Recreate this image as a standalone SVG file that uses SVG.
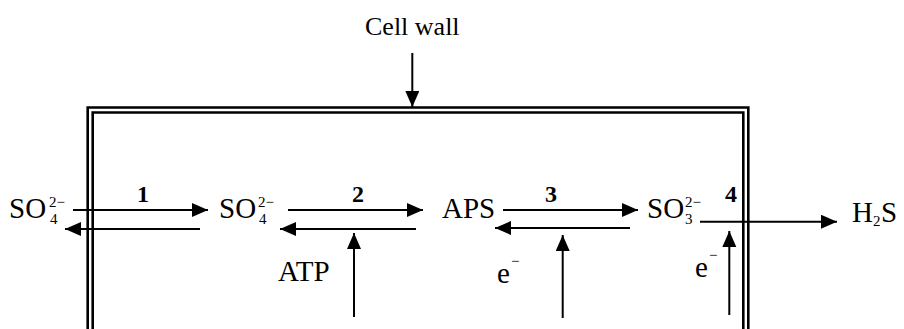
<svg xmlns="http://www.w3.org/2000/svg" width="904" height="329" viewBox="0 0 904 329">
  <style>
    .lbl { font-family: "Liberation Serif", "Times New Roman", serif; font-size: 29px; fill: #000; }
    .small { font-family: "Liberation Serif", "Times New Roman", serif; font-size: 15px; fill: #000; }
    .num { font-family: "Liberation Serif", "Times New Roman", serif; font-size: 24px; font-weight: bold; fill: #000; }
    .wall { fill: none; stroke: #000; stroke-width: 2.6; }
    .arr { stroke: #000; stroke-width: 2; fill: none; marker-end: url(#head); }
  </style>
  <defs>
    <marker id="head" markerUnits="userSpaceOnUse" markerWidth="18" markerHeight="16" refX="16" refY="7" orient="auto">
      <path d="M0,0 L16,7 L0,14 z" fill="#000"/>
    </marker>
  </defs>

  <rect width="904" height="329" fill="#fff"/>

  <!-- cell wall (double line, open at the bottom) -->
  <g id="cell-wall">
    <path class="wall" d="M87.7,340 V107.5 H748.3 V340"/>
    <path class="wall" d="M92.7,340 V112.5 H743.3 V340"/>
    <text class="lbl" x="365" y="35" style="font-size:26px">Cell wall</text>
  </g>

  <!-- species -->
  <g id="so4-out">
    <text class="lbl" x="9" y="218">SO</text>
    <text class="small" x="49" y="207">2−</text>
    <text class="small" x="50" y="224">4</text>
  </g>
  <g id="so4-in">
    <text class="lbl" x="219" y="218">SO</text>
    <text class="small" x="258" y="207">2−</text>
    <text class="small" x="259" y="224">4</text>
  </g>
  <g id="aps">
    <text class="lbl" x="442" y="218">APS</text>
  </g>
  <g id="so3">
    <text class="lbl" x="647" y="218">SO</text>
    <text class="small" x="685" y="207">2−</text>
    <text class="small" x="685" y="224">3</text>
  </g>
  <g id="h2s">
    <text class="lbl" x="852" y="222">H</text>
    <text class="small" x="873" y="226">2</text>
    <text class="lbl" x="881" y="222">S</text>
  </g>
  <g id="atp">
    <text class="lbl" x="278" y="281">ATP</text>
  </g>
  <g id="e-3">
    <text class="lbl" x="497" y="283">e</text>
    <text class="small" x="511" y="266">−</text>
  </g>
  <g id="e-4">
    <text class="lbl" x="695" y="277">e</text>
    <text class="small" x="709" y="260">−</text>
  </g>

  <!-- step numbers -->
  <g id="steps">
    <text class="num" x="137" y="202">1</text>
    <text class="num" x="352" y="202">2</text>
    <text class="num" x="545" y="202">3</text>
    <text class="num" x="725" y="202">4</text>
  </g>

  <!-- connectors -->
  <g id="connectors">
    <line class="arr" x1="412.3" y1="53" x2="412.3" y2="107"/>
    <line class="arr" x1="73" y1="210" x2="208" y2="210"/>
    <line class="arr" x1="200" y1="229" x2="65" y2="229"/>
    <line class="arr" x1="288" y1="210" x2="423" y2="210"/>
    <line class="arr" x1="416" y1="229" x2="280" y2="229"/>
    <line class="arr" x1="503" y1="210" x2="638" y2="210"/>
    <line class="arr" x1="630" y1="228" x2="495" y2="228"/>
    <line class="arr" x1="700" y1="221.7" x2="837" y2="221.7"/>
    <line class="arr" x1="354" y1="317" x2="354" y2="233"/>
    <line class="arr" x1="562.7" y1="318" x2="562.7" y2="235"/>
    <line class="arr" x1="729.3" y1="315" x2="729.3" y2="231"/>
  </g>
</svg>
